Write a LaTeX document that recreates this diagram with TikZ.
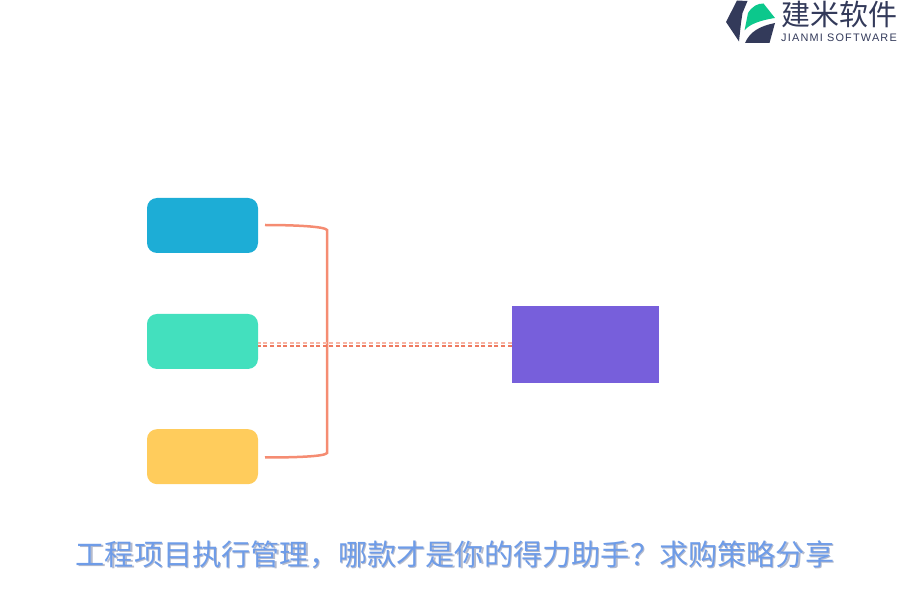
\documentclass[tikz,border=0pt]{standalone}
\usepackage{fontspec}
\newfontfamily\cjk{Noto Sans CJK SC}
\newfontfamily\logolatin[LetterSpace=11]{Liberation Sans}
\usetikzlibrary{positioning}
\definecolor{boxblue}{HTML}{1DADD6}
\definecolor{boxgreen}{HTML}{43E0BE}
\definecolor{boxyellow}{HTML}{FFCC5C}
\definecolor{boxpurple}{HTML}{775FDB}
\definecolor{linkred}{HTML}{F58C72}
\definecolor{linklight}{HTML}{F7B5A5}
\definecolor{linkdark}{HTML}{EE7A60}
\definecolor{logodark}{HTML}{333A5A}
\definecolor{logogreen}{HTML}{0CC88C}
\definecolor{titleblue}{HTML}{6E9CE8}
\definecolor{titleshade}{HTML}{B4BACC}
\tikzset{
  source/.style={minimum width=2.22cm, minimum height=1.1cm, rounded corners=0.2cm, inner sep=0pt},
  result/.style={minimum width=2.94cm, minimum height=1.54cm, inner sep=0pt, fill=boxpurple},
  link/.style={draw=linkred, line width=0.05cm},
  dotted link/.style={dash pattern=on 0.08cm off 0.052cm, line width=0.04cm}
}
\begin{document}
\begin{tikzpicture}
  \useasboundingbox (0,0) rectangle (18,12);
  % boxes
  \node[source, fill=boxblue] (blue) at (4.05,7.49) {};
  \node[source, fill=boxgreen] (green) [below = 1.205cm of blue] {};
  \node[source, fill=boxyellow] (yellow) [below = 1.19cm of green] {};
  \node[result] (target) at (11.71,5.11) {};
  % bracket
  \coordinate (topend) at (5.3,7.5);
  \coordinate (topturn) at (6.54,7.4);
  \coordinate (lowturn) at (6.54,2.94);
  \coordinate (lowend) at (5.3,2.85);
  \draw[link] (topend) .. controls (5.9,7.5) and (6.5,7.47) .. (topturn) -- (lowturn)
    .. controls (6.5,2.87) and (5.9,2.85) .. (lowend);
  % dashed link
  \draw[dotted link, draw=linklight] ([yshift=0.025cm]target.west) -- ([yshift=0.025cm]target.west -| green.east);
  \draw[dotted link, draw=linkdark] ([yshift=-0.025cm]target.west) -- ([yshift=-0.025cm]target.west -| green.east);
  % title
  \node[text=titleshade, font=\cjk\fontsize{16.6}{20}\selectfont, inner sep=0pt] (titleshadow) at (9.125,0.885) {工程项目执行管理，哪款才是你的得力助手？求购策略分享};
  \node[text=titleblue, font=\cjk\fontsize{16.6}{20}\selectfont, inner sep=0pt] (title) at (9.1,0.91) {工程项目执行管理，哪款才是你的得力助手？求购策略分享};
  % logo
  \fill[logodark] (14.74,11.99) -- (14.95,11.98) -- (14.85,11.74) -- (14.82,11.54) -- (14.78,11.17) -- (14.52,11.56) -- cycle;
  \fill[logogreen] (14.89,11.39) -- (14.96,11.74) .. controls (15.05,11.88) and (15.15,11.93) .. (15.27,11.93)
    -- (15.5,11.64) .. controls (15.17,11.59) and (14.97,11.5) .. cycle;
  \fill[logodark] (14.9,11.14) .. controls (15,11.37) and (15.2,11.48) .. (15.5,11.54)
    -- (15.39,11.14) -- cycle;
  \node[text=logodark, font=\cjk\fontsize{16.5}{20}\selectfont, inner sep=0pt] (brand) at (16.79,11.72) {建米软件};
  \node[text=logodark, font=\logolatin\fontsize{6.2}{8}\selectfont, inner sep=0pt] (brandlatin) at (16.78,11.24) {JIANMI SOFTWARE};
\end{tikzpicture}
\end{document}
